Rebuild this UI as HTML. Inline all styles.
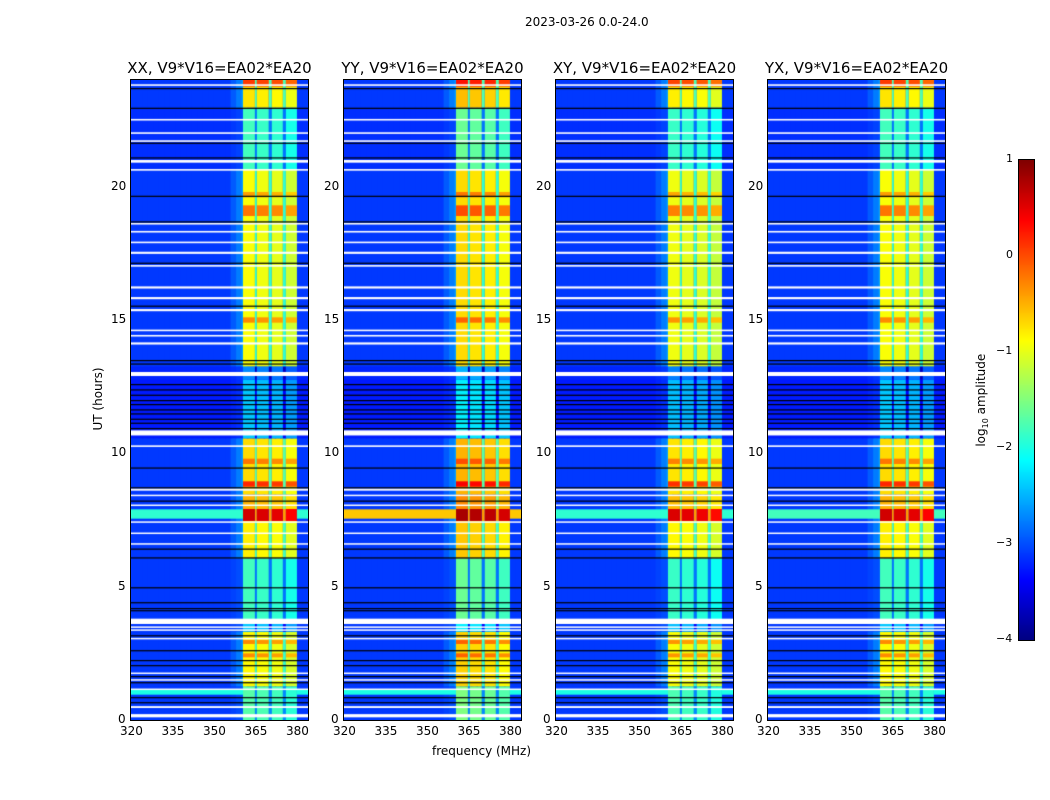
<!DOCTYPE html>
<html><head><meta charset="utf-8">
<style>
body{margin:0;background:#fff;width:1050px;height:800px;overflow:hidden;font-family:"DejaVu Sans","Liberation Sans",sans-serif;}
#root{position:relative;width:1050px;height:800px;}
.t{position:absolute;font-size:12px;color:#000;white-space:nowrap;}
.ttl{position:absolute;font-size:15px;color:#000;white-space:nowrap;text-align:center;}
canvas{position:absolute;}
.frame{position:absolute;border:1px solid #000;box-sizing:border-box;}
</style></head>
<body><div id="root">
<div class="t" style="left:525px;top:15px;font-size:12px">2023-03-26 0.0-24.0</div>
<div class="t" style="left:432px;top:744px">frequency (MHz)</div>
<div class="t" style="left:43px;top:392px;transform:rotate(-90deg);transform-origin:center;width:110px;text-align:center">UT (hours)</div>
<canvas id="cbar" width="15" height="480" style="left:1019px;top:160px"></canvas>
<div class="frame" style="left:1018px;top:159px;width:17px;height:482px"></div>
<div class="t" style="left:927px;top:392px;transform:rotate(-90deg);width:110px;text-align:center;font-size:12px">log<sub style="font-size:8px">10</sub> amplitude</div>
</div>
<script>
const panelTitles=["XX, V9*V16=EA02*EA20","YY, V9*V16=EA02*EA20","XY, V9*V16=EA02*EA20","YX, V9*V16=EA02*EA20"];
const panelLeft=[131,344,556,768];
const panelBandBoost=[0,0.2,-0.05,0.0];
const panelBgRowBoost=[0,1.3,0,0.1];
const xTicks=[320,335,350,365,380];
const yTicks=[0,5,10,15,20];
const cbTicks=[1,0,-1,-2,-3,-4];
// band segments: start hour, end hour, band level
const segStart=[0,1.3,3.35,3.8,6.1,7.5,7.95,8.5,10.6,12.8,13.3,20.7,23.0];
const segEnd=[1.3,3.35,3.8,6.1,7.5,7.95,8.5,10.6,12.8,13.3,20.7,23.0,24];
const segBand=[-1.8,-0.95,-2.5,-1.9,-0.9,0.5,-0.6,-0.8,-2.5,-2.8,-1.0,-1.9,-0.85];
const segBg=[-3.1,-3.1,-3.1,-3.1,-3.1,-3.1,-3.1,-3.1,-3.25,-3.2,-3.1,-3.15,-3.1];
// hot rows within band
const hotStart=[2.35,2.85,8.75,9.6,14.9,18.9,23.75,19.6];
const hotEnd=[2.5,3.0,8.95,9.8,15.1,19.3,24,19.8];
const hotVal=[-0.4,-0.4,0.1,-0.3,-0.4,-0.3,0.0,-0.5];
// full-width bright rows
const rowStart=[0.95,7.55];
const rowEnd=[1.15,7.9];
const rowVal=[-2.0,-1.9];
// sub-bands (MHz)
const subLo=[360.5,365.5,370.9,376.0];
const subHi=[364.8,369.8,374.9,380.0];
const subOff=[0.1,0.05,0.0,-0.12];
// flagged (white) rows
const whiteStart=[0.1,3.6,10.67,12.9,20.9,0.45,1.13,1.48,1.73,3.03,3.35,3.46,6.58,6.98,7.4,8.03,8.4,8.6,10.24,14.08,14.38,14.58,15.33,15.78,16.18,17.0,17.48,17.88,18.28,18.58,20.6,21.68,21.98,22.48,23.78];
const whiteEnd=[0.22,3.8,10.86,13.05,21.0,0.52,1.18,1.53,1.78,3.08,3.4,3.51,6.63,7.03,7.45,8.08,8.45,8.68,10.3,14.16,14.44,14.64,15.41,15.86,16.26,17.06,17.56,17.94,18.34,18.64,20.66,21.74,22.04,22.54,23.84];
// black lines
const blackH=[0.67,0.86,1.42,1.65,2.06,2.25,2.62,3.18,4.12,4.2,4.42,4.98,6.1,6.43,8.23,8.73,9.47,10.95,11.15,11.3,11.5,11.65,11.85,12.0,12.2,12.4,12.6,13.37,13.5,15.54,17.15,18.7,19.66,21.1,21.65,22.96,23.7];

const PW=177, TOP=80, BOT=720;
function xS(f,i){return panelLeft[i]+(f-320)*(PW/(384-320));}
function yS(h){return BOT-h*(BOT-TOP)/24;}
function jet(v){let t=(v+4)/5;t=Math.max(0,Math.min(1,t));
 const c=x=>Math.round(255*Math.max(0,Math.min(1,1.5-Math.abs(x))));
 return `rgb(${c(4*t-3)},${c(4*t-2)},${c(4*t-1)})`;}
const root=document.getElementById('root');
for(let i=0;i<4;i++){
 const cv=document.createElement('canvas');
 cv.width=PW;cv.height=BOT-TOP;cv.style.left=panelLeft[i]+'px';cv.style.top=TOP+'px';
 
 
 root.appendChild(cv);
 const ctx=cv.getContext('2d');
 const X=f=>xS(f,i)-panelLeft[i], Y=h=>yS(h)-TOP;
 for(let s=0;s<segStart.length;s++){
  const y0=Y(segEnd[s]),y1=Y(segStart[s]);
  const steps=32;
  for(let k=0;k<steps;k++){const f0=320+k*2,f1=f0+2;
   let v=segBg[s]; if(f0>=354&&f0<360.5) v+=(f0-354)/6*0.5*(segBand[s]>-1.5?1:0.3);
   ctx.fillStyle=jet(v);ctx.fillRect(X(f0),y0,X(f1)-X(f0)+1,y1-y0+1);}
  for(let b=0;b<3;b++){ctx.fillStyle=jet(segBand[s]-0.9);
   ctx.fillRect(X(subHi[b]),y0,X(subLo[b+1])-X(subHi[b]),y1-y0+1);}
  for(let b=0;b<4;b++){ctx.fillStyle=jet(segBand[s]+subOff[b]+panelBandBoost[i]);
   ctx.fillRect(X(subLo[b]),y0,X(subHi[b])-X(subLo[b]),y1-y0+1);}
 }
 for(let r=0;r<rowStart.length;r++){
  ctx.fillStyle=jet(rowVal[r]+(r==1?panelBgRowBoost[i]:0));
  ctx.fillRect(0,Y(rowEnd[r]),X(360.5),Y(rowStart[r])-Y(rowEnd[r]));
  ctx.fillRect(X(380),Y(rowEnd[r]),PW,Y(rowStart[r])-Y(rowEnd[r]));}
 for(let r=0;r<hotStart.length;r++){
  for(let b=0;b<4;b++){ctx.fillStyle=jet(hotVal[r]+subOff[b]+panelBandBoost[i]);
   ctx.fillRect(X(subLo[b]),Y(hotEnd[r]),X(subHi[b])-X(subLo[b]),Y(hotStart[r])-Y(hotEnd[r]));}}
 ctx.fillStyle='#fff';
 for(let r=0;r<whiteStart.length;r++) ctx.fillRect(0,Y(whiteEnd[r]),PW,Math.max(1.5,Y(whiteStart[r])-Y(whiteEnd[r])));
 ctx.fillStyle='#000';
 for(let r=0;r<blackH.length;r++) ctx.fillRect(0,Y(blackH[r]),PW,1.2);
 const fr=document.createElement('div');fr.className='frame';
 fr.style.cssText=`left:${panelLeft[i]-1}px;top:${TOP-1}px;width:${PW+2}px;height:${BOT-TOP+2}px`;
 
 
 root.appendChild(fr);
 const tt=document.createElement('div');tt.className='ttl';tt.textContent=panelTitles[i];
 tt.style.cssText=`left:${panelLeft[i]-30}px;top:59px;width:${PW+60}px`;
 
 
 root.appendChild(tt);
 xTicks.forEach(v=>{const l=document.createElement('div');l.className='t';l.textContent=v;
  l.style.left=(xS(v,i)-11)+'px';l.style.top='724px';
  
  
  root.appendChild(l);});
 yTicks.forEach(v=>{const l=document.createElement('div');l.className='t';l.textContent=v;
  l.style.left=(panelLeft[i]-5-(v>=10?15:8))+'px';l.style.top=(yS(v)-8)+'px';
  
  
  root.appendChild(l);});
}
const cb=document.getElementById('cbar').getContext('2d');
for(let y=0;y<480;y++){cb.fillStyle=jet(1-5*y/480);cb.fillRect(0,y,15,1);}
cbTicks.forEach(v=>{const l=document.createElement('div');l.className='t';l.textContent=v<0?'\u2212'+(-v):v;
 l.style.left=(v<0?996:1006)+'px';l.style.top=(160+(1-v)*96-8)+'px';l.style.fontSize='11px';
 
 
 root.appendChild(l);});
</script>
</body></html>
